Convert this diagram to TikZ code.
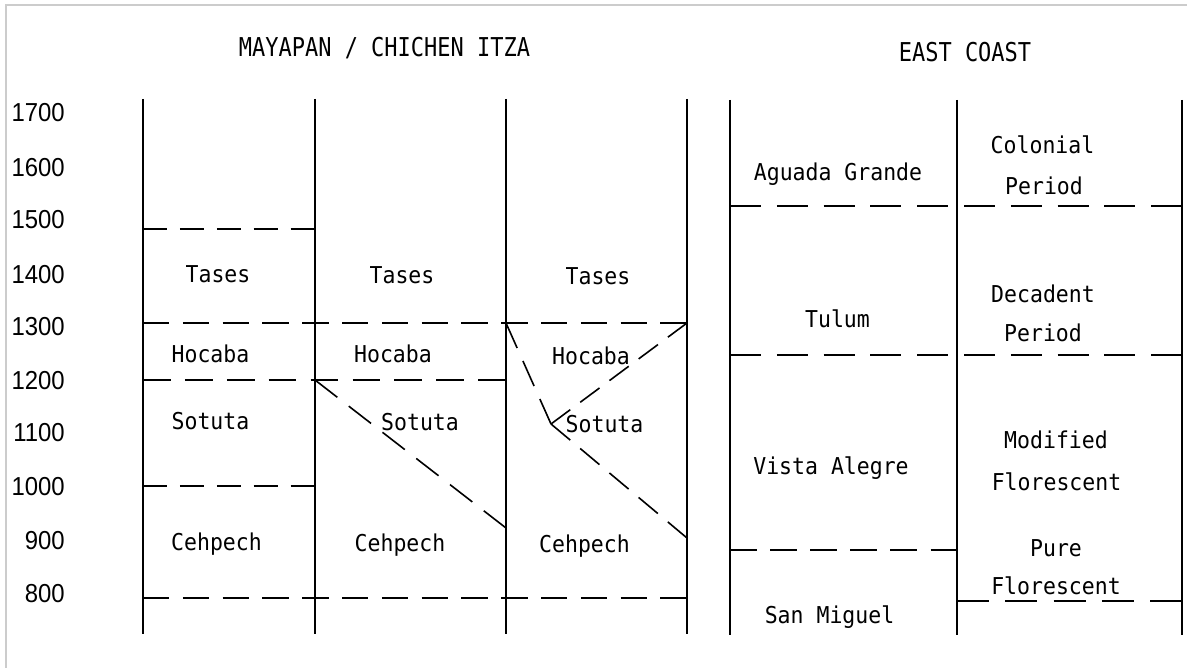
\documentclass[tikz,border=0pt]{standalone}
\usepackage{fontspec}
\newfontfamily\monofont{DejaVu Sans Mono}
\newfontfamily\yrfont{Liberation Sans}
\newcommand{\lbtxt}[1]{\scalebox{1}[1.08]{#1}}
\newcommand{\tttxt}[1]{\scalebox{1}[1.18]{#1}}
\newcommand{\yrtxt}[1]{\scalebox{0.92}[1]{#1}}
\tikzset{
  solidline/.style={line width=1.6pt, black},
  dashline/.style 2 args={line width=1.6pt, black, dash pattern=on #1pt off #2pt},
  frameline/.style={line width=2pt, draw=gray!40},
  lbl/.style={font=\fontsize{21.5}{24}\monofont, anchor=base, inner sep=0pt},
  ttl/.style={font=\fontsize{22}{24}\monofont, anchor=base, inner sep=0pt},
  yr/.style={font=\fontsize{26}{28}\yrfont, anchor=base east, inner sep=0pt},
}
\begin{document}
\begin{tikzpicture}[x=1pt,y=-1pt]
\useasboundingbox (0,0) rectangle (1187,668);
% frame
\coordinate (fTL) at (6,5);
\coordinate (fTR) at (1187,5);
\coordinate (fBL) at (6,668);
\draw[frameline] (fBL) -- (fTL) -- (fTR);

% titles
\node[ttl] (t1) at (384.5,57) {\tttxt{MAYAPAN / CHICHEN ITZA}};
\node[ttl] (t2) at (965,62) {\tttxt{EAST COAST}};

% years
\node[yr] (y17) at (65,122) {\yrtxt{1700}};
\node[yr] (y16) at (65,177) {\yrtxt{1600}};
\node[yr] (y15) at (65,229) {\yrtxt{1500}};
\node[yr] (y14) at (65,284) {\yrtxt{1400}};
\node[yr] (y13) at (65,336) {\yrtxt{1300}};
\node[yr] (y12) at (65,390) {\yrtxt{1200}};
\node[yr] (y11) at (65,442) {\yrtxt{1100}};
\node[yr] (y10) at (65,495) {\yrtxt{1000}};
\node[yr] (y9) at (65,549) {\yrtxt{900}};
\node[yr] (y8) at (65,602) {\yrtxt{800}};

% vertical lines, left group
\foreach \n/\x in {a/143,b/315,c/506,d/687}{
  \coordinate (\n top) at (\x,99);
  \coordinate (\n bot) at (\x,634);
  \draw[solidline] (\n top) -- (\n bot);
}
% vertical lines, right group
\foreach \n/\x in {e/730,f/957,g/1182}{
  \coordinate (\n top) at (\x,100);
  \coordinate (\n bot) at (\x,635);
  \draw[solidline] (\n top) -- (\n bot);
}

% left group dashed lines
\coordinate (a1500) at (143,229); \coordinate (b1500) at (315,229);
\coordinate (a1300) at (143,323); \coordinate (d1300) at (687,323);
\coordinate (c1300) at (506,323);
\coordinate (a1200) at (143,380); \coordinate (b1200) at (315,380); \coordinate (c1200) at (506,380);
\coordinate (a1000) at (143,486); \coordinate (b1000) at (315,486);
\coordinate (a800) at (143,598); \coordinate (d800) at (687,598);
\coordinate (cdiag) at (506,528);
\coordinate (vj) at (551,424);
\coordinate (ddiag) at (687,538);

\draw[dashline={24.4}{12.5}] (a1500) -- (b1500);
\draw[dashline={26.3}{13.5}] (a1300) -- (d1300);
\draw[dashline={27.7}{14.2}] (a1200) -- (c1200);
\draw[dashline={24.4}{12.5}] (a1000) -- (b1000);
\draw[dashline={26.3}{13.5}] (a800) -- (d800);
\draw[dashline={28.2}{14.5}] (b1200) -- (cdiag);
\draw[dashline={27.4}{14.2}] (c1300) -- (vj);
\draw[dashline={24}{12.4}] (vj) -- (d1300);
\draw[dashline={25.1}{13}] (vj) -- (ddiag);

% right group dashed lines
\coordinate (e1) at (730,206); \coordinate (g1) at (1182,206);
\coordinate (e2) at (730,355); \coordinate (g2) at (1182,355);
\coordinate (e3) at (730,550); \coordinate (f3) at (957,550);
\coordinate (f4) at (957,601); \coordinate (g4) at (1182,601);
\draw[dashline={30.9}{15.9}] (e1) -- (g1);
\draw[dashline={30.9}{15.9}] (e2) -- (g2);
\draw[dashline={26.5}{13.6}] (e3) -- (f3);
\draw[dashline={31.9}{16.4}] (f4) -- (g4);

% left labels
\node[lbl] (ta1) at (218,283) {\lbtxt{Tases}};
\node[lbl] (ta2) at (402,284) {\lbtxt{Tases}};
\node[lbl] (ta3) at (598,285) {\lbtxt{Tases}};
\node[lbl] (ho1) at (210.5,363) {\lbtxt{Hocaba}};
\node[lbl] (ho2) at (393,363) {\lbtxt{Hocaba}};
\node[lbl] (ho3) at (591,365) {\lbtxt{Hocaba}};
\node[lbl] (so1) at (210.5,430) {\lbtxt{Sotuta}};
\node[lbl] (so2) at (420,431) {\lbtxt{Sotuta}};
\node[lbl] (so3) at (604.5,432) {\lbtxt{Sotuta}};
\node[lbl] (ce1) at (216.5,550) {\lbtxt{Cehpech}};
\node[lbl] (ce2) at (400,551) {\lbtxt{Cehpech}};
\node[lbl] (ce3) at (584.5,552) {\lbtxt{Cehpech}};

% right labels
\node[lbl] (ag) at (838,181) {\lbtxt{Aguada Grande}};
\node[lbl] (col) at (1042.5,154) {\lbtxt{Colonial}};
\node[lbl] (per1) at (1044,195) {\lbtxt{Period}};
\node[lbl] (tul) at (837.5,328) {\lbtxt{Tulum}};
\node[lbl] (dec) at (1043,302.5) {\lbtxt{Decadent}};
\node[lbl] (per2) at (1043,342) {\lbtxt{Period}};
\node[lbl] (va) at (831,474) {\lbtxt{Vista Alegre}};
\node[lbl] (mod) at (1056,449) {\lbtxt{Modified}};
\node[lbl] (flo1) at (1056.5,490) {\lbtxt{Florescent}};
\node[lbl] (pur) at (1056,556) {\lbtxt{Pure}};
\node[lbl] (flo2) at (1056,594) {\lbtxt{Florescent}};
\node[lbl] (sm) at (829.5,623) {\lbtxt{San Miguel}};
\end{tikzpicture}
\end{document}
